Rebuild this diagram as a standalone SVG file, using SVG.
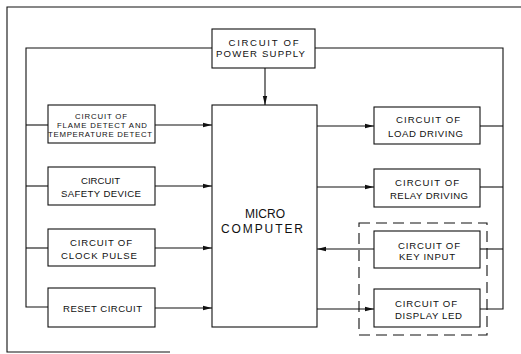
<svg xmlns="http://www.w3.org/2000/svg" width="521" height="354" viewBox="0 0 521 354">
<defs>
<style>
.box{fill:#fff;stroke:#111;stroke-width:1.1}
.ln{fill:none;stroke:#111;stroke-width:1.1}
.dash{fill:none;stroke:#111;stroke-width:1.1;stroke-dasharray:11 6}
text{font-family:"Liberation Sans",Arial,sans-serif;font-size:9.6px;fill:#111;text-anchor:middle}
.sm{font-size:7.8px}
.big{font-size:12px}
</style>
<marker id="ah" markerWidth="9" markerHeight="6" refX="9" refY="3" orient="auto" markerUnits="userSpaceOnUse">
<path d="M0,0.8 L9,3 L0,5.2 Z" fill="#111"/>
</marker>
</defs>
<rect width="521" height="354" fill="#fff"/>
<polyline class="ln" points="521,7 7,7 7,352 170,352"/>
<g id="connectors">
<polyline class="ln" points="212,48 26,48 26,307 48,307"/>
<line class="ln" x1="26" y1="125" x2="48" y2="125"/>
<line class="ln" x1="26" y1="186" x2="48" y2="186"/>
<line class="ln" x1="26" y1="248" x2="48" y2="248"/>
<polyline class="ln" points="315,48 503,48 503,309 480,309"/>
<line class="ln" x1="480" y1="126" x2="503" y2="126"/>
<line class="ln" x1="480" y1="187" x2="503" y2="187"/>
<line class="ln" x1="480" y1="249" x2="503" y2="249"/>
<line class="ln" x1="265" y1="68" x2="265" y2="105" marker-end="url(#ah)"/>
<line class="ln" x1="155" y1="125" x2="212" y2="125" marker-end="url(#ah)"/>
<line class="ln" x1="155" y1="186" x2="212" y2="186" marker-end="url(#ah)"/>
<line class="ln" x1="155" y1="248" x2="212" y2="248" marker-end="url(#ah)"/>
<line class="ln" x1="155" y1="308" x2="212" y2="308" marker-end="url(#ah)"/>
<line class="ln" x1="317" y1="126" x2="374" y2="126" marker-end="url(#ah)"/>
<line class="ln" x1="317" y1="187" x2="374" y2="187" marker-end="url(#ah)"/>
<line class="ln" x1="374" y1="249" x2="317" y2="249" marker-end="url(#ah)"/>
<line class="ln" x1="317" y1="309" x2="374" y2="309" marker-end="url(#ah)"/>
</g>
<rect id="group-dashed" class="dash" x="359" y="223" width="128" height="112"/>
<g id="power">
<rect class="box" x="212" y="29" width="103" height="39"/>
<text x="263.5" y="45.5" textLength="70" lengthAdjust="spacing">CIRCUIT OF</text>
<text x="260.5" y="57" textLength="89" lengthAdjust="spacing">POWER SUPPLY</text>
</g>
<g id="micro">
<rect class="box" x="212" y="105" width="105" height="222"/>
<text class="big" x="265" y="217.5" textLength="40" lengthAdjust="spacing">MICRO</text>
<text class="big" x="262" y="232.5" textLength="82" lengthAdjust="spacing">COMPUTER</text>
</g>
<g id="flame">
<rect class="box" x="48" y="105" width="107" height="38"/>
<text class="sm" x="101" y="118.5" textLength="52" lengthAdjust="spacing">CIRCUIT OF</text>
<text class="sm" x="102" y="127.5" textLength="90" lengthAdjust="spacing">FLAME DETECT AND</text>
<text class="sm" x="100" y="136.5" textLength="104" lengthAdjust="spacing">TEMPERATURE DETECT</text>
</g>
<g id="safety">
<rect class="box" x="48" y="167" width="107" height="38"/>
<text x="100.5" y="183.5" textLength="39" lengthAdjust="spacing">CIRCUIT</text>
<text x="101" y="196.5" textLength="80" lengthAdjust="spacing">SAFETY DEVICE</text>
</g>
<g id="clock">
<rect class="box" x="48" y="229" width="107" height="37"/>
<text x="101" y="245.5" textLength="62" lengthAdjust="spacing">CIRCUIT OF</text>
<text x="99" y="258.5" textLength="76" lengthAdjust="spacing">CLOCK PULSE</text>
</g>
<g id="reset">
<rect class="box" x="48" y="288" width="107" height="39"/>
<text x="102.5" y="311.5" textLength="79" lengthAdjust="spacing">RESET CIRCUIT</text>
</g>
<g id="load">
<rect class="box" x="374" y="107" width="106" height="37"/>
<text x="428" y="122.5" textLength="64" lengthAdjust="spacing">CIRCUIT OF</text>
<text x="425.5" y="136.5" textLength="75" lengthAdjust="spacing">LOAD DRIVING</text>
</g>
<g id="relay">
<rect class="box" x="374" y="169" width="106" height="38"/>
<text x="427" y="185.5" textLength="64" lengthAdjust="spacing">CIRCUIT OF</text>
<text x="429" y="198.5" textLength="78" lengthAdjust="spacing">RELAY DRIVING</text>
</g>
<g id="key">
<rect class="box" x="374" y="231" width="106" height="37"/>
<text x="429" y="248.5" textLength="62" lengthAdjust="spacing">CIRCUIT OF</text>
<text x="427" y="259.5" textLength="56" lengthAdjust="spacing">KEY INPUT</text>
</g>
<g id="display">
<rect class="box" x="374" y="289" width="106" height="38"/>
<text x="426" y="306.5" textLength="62" lengthAdjust="spacing">CIRCUIT OF</text>
<text x="428.5" y="318.5" textLength="67" lengthAdjust="spacing">DISPLAY LED</text>
</g>
</svg>
